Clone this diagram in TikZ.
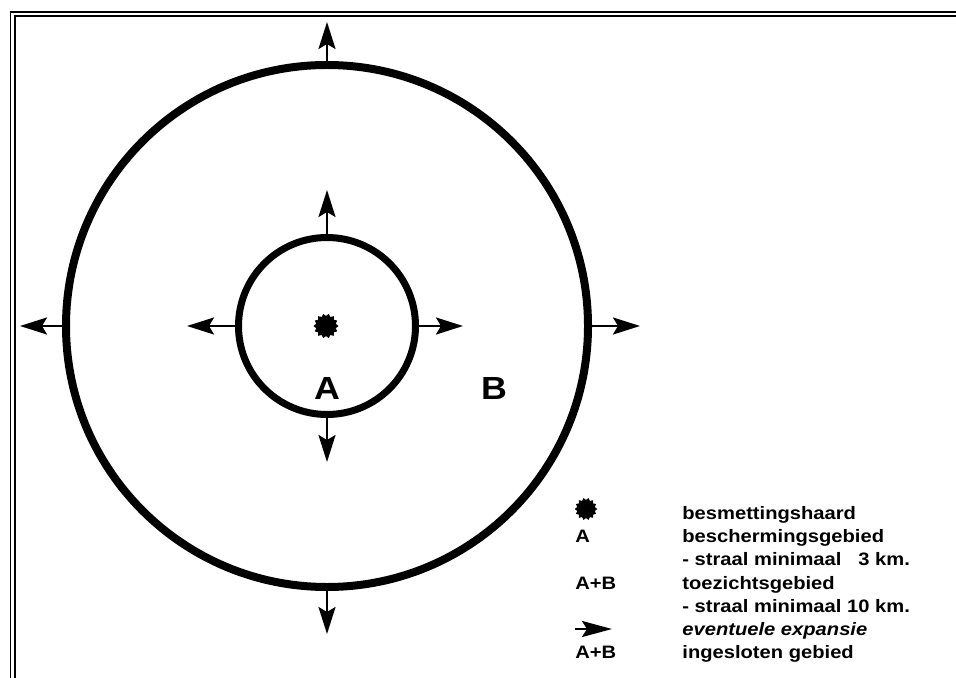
\documentclass[tikz,border=0pt]{standalone}
\usepackage{fontspec}
\newfontfamily\zonefont{Liberation Sans}[FakeStretch=1.12]
\usetikzlibrary{arrows.meta,shapes.geometric}

\begin{document}
\begin{tikzpicture}[x=0.5pt, y=-0.5pt,
  every node/.style={font=\zonefont\bfseries},
  zone/.style={circle, draw=black, inner sep=0pt},
  expand/.style={-{Stealth[length=13.5pt, width=8.5pt, inset=2.5pt]}, line width=1.2pt},
  haard/.style={star, star points=14, star point ratio=0.8, fill=black, draw=none, inner sep=0pt},
  bigletter/.style={font=\zonefont\bfseries\fontsize{16}{19}\selectfont},
  legsym/.style={anchor=base west, inner sep=0pt, font=\zonefont\bfseries\fontsize{9}{11}\selectfont},
  legtext/.style={legsym},
]
\useasboundingbox (0,0) rectangle (956,678);
% frame
\draw[line width=0.9pt, double distance=1.2pt] (12.5,678) |- (956,14);
% zones
\node[zone, line width=4pt, minimum size=261pt] (outer) at (327,326) {};
\node[zone, line width=3.5pt, minimum size=88.5pt] (inner) at (327,326) {};
\node[haard, minimum size=10pt] (haard) at (326,326) {};
\node[bigletter] (labA) at (327,388) {A};
\node[bigletter] (labB) at (494,388) {B};
% expansion arrows
\coordinate (outerN) at (327,22);
\coordinate (outerS) at (327,634);
\coordinate (outerW) at (20,326);
\coordinate (outerE) at (640,326);
\coordinate (innerN) at (327,190);
\coordinate (innerS) at (327,462);
\coordinate (innerW) at (187,326);
\coordinate (innerE) at (463,326);
\draw[expand] (outer.north) -- (outerN);
\draw[expand] (outer.south) -- (outerS);
\draw[expand] (outer.west) -- (outerW);
\draw[expand] (outer.east) -- (outerE);
\draw[expand] (inner.north) -- (innerN);
\draw[expand] (inner.south) -- (innerS);
\draw[expand] (inner.west) -- (innerW);
\draw[expand] (inner.east) -- (innerE);
% legend
\node[haard, minimum size=9pt] (legdot) at (586,509) {};
\node[legsym] (symA) at (575,542) {A};
\node[legsym] (symAB1) at (575,589) {A+B};
\coordinate (legtail) at (575,629);
\coordinate (legtip) at (612,629);
\draw[expand, -{Stealth[length=15pt, width=8pt, inset=2.5pt]}] (legtail) -- (legtip);
\node[legsym] (symAB2) at (575,658) {A+B};
\node[legtext] (txt1) at (682,519) {besmettingshaard};
\node[legtext] (txt2) at (682,542) {beschermingsgebied};
\node[legtext] (txt3) at (682,565) {- straal minimaal \phantom{1}3 km.};
\node[legtext] (txt4) at (682,589) {toezichtsgebied};
\node[legtext] (txt5) at (682,612) {- straal minimaal 10 km.};
\node[legtext] (txt6) at (682,635) {\itshape eventuele expansie};
\node[legtext] (txt7) at (682,658) {ingesloten gebied};
\end{tikzpicture}
\end{document}
